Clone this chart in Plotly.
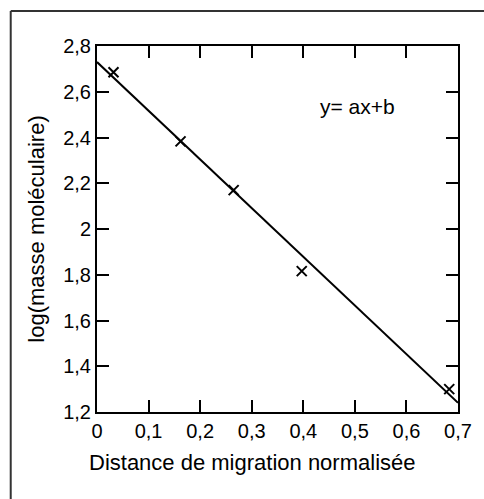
import plotly.graph_objects as go

# Data
distance = [0.032, 0.162, 0.265, 0.397, 0.683]
log_mass = [2.685, 2.383, 2.170, 1.816, 1.300]
fit_x = [0.0, 0.7]
fit_y = [2.73, 1.24]

x_ticks = [0, 0.1, 0.2, 0.3, 0.4, 0.5, 0.6, 0.7]
y_ticks = [1.2, 1.4, 1.6, 1.8, 2.0, 2.2, 2.4, 2.6, 2.8]

FONT = "Liberation Sans, Arial, sans-serif"

fig = go.Figure()
fig.add_trace(go.Scatter(x=fit_x, y=fit_y, mode="lines",
                         line=dict(color="black", width=2), showlegend=False))
fig.add_trace(go.Scatter(x=distance, y=log_mass, mode="markers",
                         marker=dict(symbol="x-thin", size=10, color="black",
                                     line=dict(color="black", width=2)),
                         showlegend=False))

axis_common = dict(showline=True, linecolor="black", linewidth=2, mirror="ticks",
                   ticks="inside", ticklen=12, tickwidth=2, tickcolor="black",
                   showgrid=False, zeroline=False,
                   tickfont=dict(family=FONT, size=20, color="black"))

fig.update_xaxes(range=[0, 0.7], tickvals=x_ticks,
                 ticktext=[str(v).replace(".", ",") for v in x_ticks],
                 **axis_common)
fig.update_yaxes(range=[1.2, 2.8], tickvals=y_ticks,
                 ticktext=[("%g" % v).replace(".", ",") for v in y_ticks],
                 title=dict(text="log(masse moléculaire)",
                            font=dict(family=FONT, size=22, color="black"), standoff=12),
                 **axis_common)

fig.add_annotation(x=0.43, y=-0.137, xref="paper", yref="paper",
                   text="Distance de migration normalisée", showarrow=False,
                   xanchor="center", yanchor="middle",
                   font=dict(family=FONT, size=22, color="black"))

fig.add_annotation(x=0.505, y=2.535, xref="x", yref="y", text="y= ax+b",
                   showarrow=False, font=dict(family=FONT, size=21, color="black"))

# outer frame (left and top edges visible)
fig.add_shape(type="line", xref="paper", yref="paper", x0=-0.239, x1=-0.239,
              y0=-0.3, y1=1.0956, line=dict(color="#333", width=2))
fig.add_shape(type="line", xref="paper", yref="paper", x0=-0.239, x1=1.2,
              y0=1.0956, y1=1.0956, line=dict(color="#333", width=2))

fig.update_layout(width=484, height=499, margin=dict(l=97, r=23, t=46, b=87),
                  plot_bgcolor="white", paper_bgcolor="white",
                  font=dict(family=FONT, color="black"))
fig.write_html("out.html", config={"displayModeBar": False},
               post_script="document.body.style.margin='0';document.body.style.overflow='hidden';")
